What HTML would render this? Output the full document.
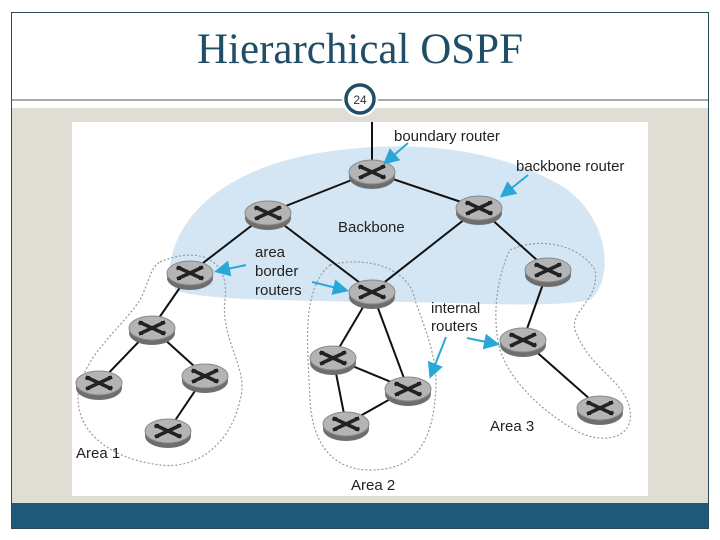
<!DOCTYPE html>
<html><head><style>
body{margin:0;width:720px;height:540px;background:#fff;overflow:hidden}
svg{display:block}
</style></head><body>
<svg width="720" height="540" viewBox="0 0 720 540" xmlns="http://www.w3.org/2000/svg">
<defs>
<g id="r">
<ellipse cx="0" cy="5" rx="23" ry="12" fill="#6e6e6e"/>
<rect x="-23" y="0" width="46" height="5" fill="#7a7a7a"/>
<ellipse cx="0" cy="0" rx="23" ry="12" fill="#b4b4b4" stroke="#888" stroke-width="1"/>
<path d="M-13,-6 L13,6 M-13,6 L13,-6" stroke="#222" stroke-width="3.5"/>
<path d="M-13,-6 l4,0 M-13,-6 l1,3 M13,6 l-4,0 M13,6 l-1,-3 M-13,6 l4,0 M13,-6 l-4,0" stroke="#222" stroke-width="2"/>
</g>
<marker id="a" markerWidth="8" markerHeight="8" refX="6" refY="4" orient="auto"><path d="M0,0 L8,4 L0,8z" fill="#29a8d8"/></marker>
</defs>
<rect x="11.5" y="12.5" width="697" height="516" fill="#fff" stroke="#2a4a5a"/>
<text x="360" y="63" text-anchor="middle" font-family="Liberation Serif, serif" font-size="43" fill="#1f4e66">Hierarchical OSPF</text>
<line x1="11" y1="100" x2="708" y2="100" stroke="#555" stroke-width="1"/>
<rect x="12" y="108" width="696" height="395" fill="#e0ddd4"/>
<rect x="12" y="503" width="696" height="25" fill="#1f5a7a"/>
<rect x="72" y="122" width="576" height="374" fill="#fff"/>
<path d="M170,265 C180,200 250,160 340,150 C420,140 500,150 560,185 C610,215 615,280 590,300 C540,310 440,300 360,302 C280,300 200,300 175,290 Z" fill="#d4e6f4"/>
<g fill="none" stroke="#999" stroke-width="1.2" stroke-dasharray="2,2">
<path d="M160,262 C200,245 230,260 225,300 C220,340 250,370 240,400 C232,440 200,470 160,465 C120,460 80,440 78,400 C78,360 120,330 140,300 C150,280 150,268 160,262 Z"/>
<path d="M330,265 C370,255 410,270 415,300 C425,330 440,360 435,400 C430,450 410,470 370,470 C330,470 312,440 310,400 C308,350 300,290 330,265 Z"/>
<path d="M510,250 C540,236 580,245 595,270 C600,300 570,310 575,330 C590,370 625,380 630,410 C635,440 600,445 575,430 C540,410 510,380 500,350 C490,310 500,270 510,250 Z"/>
</g>
<g stroke="#111" stroke-width="2">
<line x1="372" y1="122" x2="372" y2="172"/>
<line x1="372" y1="172" x2="268" y2="213"/>
<line x1="372" y1="172" x2="479" y2="208"/>
<line x1="268" y1="213" x2="190" y2="273"/>
<line x1="268" y1="213" x2="372" y2="292"/>
<line x1="479" y1="208" x2="372" y2="292"/>
<line x1="479" y1="208" x2="548" y2="270"/>
<line x1="190" y1="273" x2="152" y2="328"/>
<line x1="152" y1="328" x2="99" y2="383"/>
<line x1="152" y1="328" x2="205" y2="376"/>
<line x1="205" y1="376" x2="168" y2="431"/>
<line x1="372" y1="292" x2="333" y2="358"/>
<line x1="372" y1="292" x2="408" y2="389"/>
<line x1="333" y1="358" x2="408" y2="389"/>
<line x1="333" y1="358" x2="346" y2="424"/>
<line x1="346" y1="424" x2="408" y2="389"/>
<line x1="548" y1="270" x2="523" y2="340"/>
<line x1="523" y1="340" x2="600" y2="408"/>
</g>
<g>
<use href="#r" x="372" y="172"/><use href="#r" x="268" y="213"/><use href="#r" x="479" y="208"/>
<use href="#r" x="190" y="273"/><use href="#r" x="372" y="292"/><use href="#r" x="548" y="270"/>
<use href="#r" x="152" y="328"/><use href="#r" x="99" y="383"/><use href="#r" x="205" y="376"/>
<use href="#r" x="168" y="431"/><use href="#r" x="333" y="358"/><use href="#r" x="408" y="389"/>
<use href="#r" x="346" y="424"/><use href="#r" x="523" y="340"/><use href="#r" x="600" y="408"/>
</g>
<g stroke="#29a8d8" stroke-width="2" marker-end="url(#a)">
<line x1="408" y1="143" x2="386" y2="162"/>
<line x1="528" y1="175" x2="503" y2="195"/>
<line x1="246" y1="265" x2="218" y2="271"/>
<line x1="312" y1="282" x2="345" y2="290"/>
<line x1="446" y1="337" x2="431" y2="375"/>
<line x1="467" y1="338" x2="496" y2="344"/>
</g>
<g font-family="Liberation Sans, sans-serif" font-size="15" fill="#222">
<text x="394" y="141">boundary router</text>
<text x="516" y="171">backbone router</text>
<text x="338" y="232">Backbone</text>
<text x="255" y="257">area</text>
<text x="255" y="276">border</text>
<text x="255" y="295">routers</text>
<text x="431" y="313">internal</text>
<text x="431" y="331">routers</text>
<text x="76" y="458">Area 1</text>
<text x="351" y="490">Area 2</text>
<text x="490" y="431">Area 3</text>
</g>
<circle cx="360" cy="99" r="18" fill="#fff"/>
<circle cx="360" cy="99" r="14" fill="#fff" stroke="#1f4e66" stroke-width="3.5"/>
<text x="360" y="104" text-anchor="middle" font-family="Liberation Sans, sans-serif" font-size="12" fill="#333">24</text>
</svg>
</body></html>
